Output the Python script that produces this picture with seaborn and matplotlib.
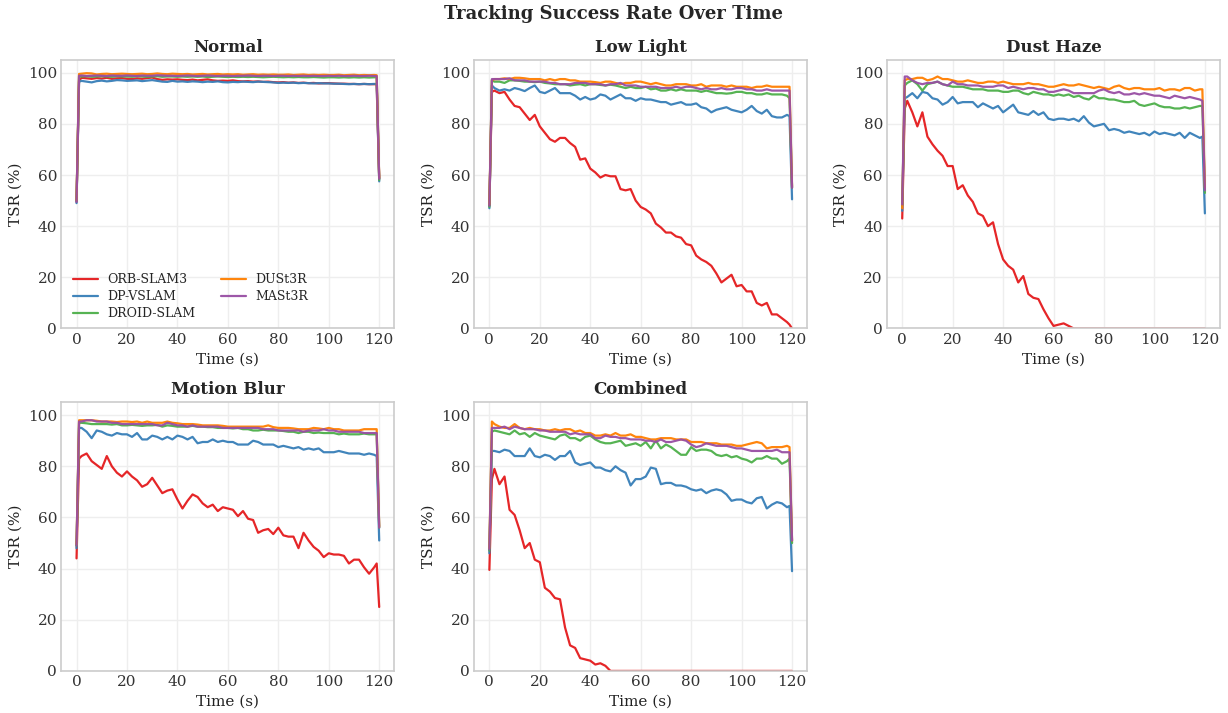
import numpy as np
import pandas as pd
import matplotlib
matplotlib.use("Agg")
import matplotlib.pyplot as plt
import seaborn as sns

# time grid (s): 0, 1, then every 2 s, then 119, 120
time = [0, 1] + list(range(2, 119, 2)) + [119, 120]

methods = ["ORB-SLAM3", "DP-VSLAM", "DROID-SLAM", "DUSt3R", "MASt3R"]
colors = ["#e41a1c", "#377eb8", "#4daf4a", "#ff7f00", "#984ea3"]
conditions = ["Normal", "Low Light", "Dust Haze", "Motion Blur", "Combined"]

# ---------- Normal ----------
normal_orb = [49.5, 97.0,
              98.0, 97.8, 97.6, 97.9, 97.7, 98.0, 97.6, 97.8, 97.9, 97.6,
              97.5, 97.8, 97.6, 97.9, 98.1, 97.5, 97.2, 97.4, 97.3, 97.4,
              97.2, 97.1, 97.3, 97.0, 97.2, 97.4, 97.0, 96.8, 96.9, 96.8,
              97.0, 96.7, 96.6, 96.7, 96.5, 96.6, 96.4, 96.5, 96.3, 96.2,
              96.3, 96.1, 96.2, 96.0, 96.1, 95.9, 96.0, 95.8, 95.9, 95.9,
              95.8, 95.7, 95.7, 95.6, 95.6, 95.5, 95.6, 95.5, 95.5,
              95.5, 58.5]
normal_dpv = [49.0, 96.5,
              96.8, 96.5, 96.2, 96.7, 96.9, 96.6, 96.8, 97.1, 97.0, 96.8,
              96.9, 97.0, 96.7, 96.9, 97.1, 96.8, 96.5, 96.4, 96.8, 96.5,
              96.6, 96.4, 96.6, 96.5, 96.3, 96.5, 96.4, 96.6, 96.3, 96.2,
              96.4, 96.3, 96.5, 96.4, 96.3, 96.5, 96.4, 96.3, 96.2, 96.0,
              96.1, 96.0, 96.1, 95.9, 96.0, 95.9, 95.8, 95.9, 95.8, 95.8,
              95.7, 95.7, 95.6, 95.5, 95.6, 95.5, 95.6, 95.5, 95.6,
              95.6, 57.5]
normal_droid = [50.0, 98.5,
                98.5, 98.6, 98.4, 98.5, 98.6, 98.5, 98.4, 98.6, 98.5, 98.5,
                98.4, 98.6, 98.5, 98.4, 98.5, 98.6, 98.4, 98.5, 98.5, 98.4,
                98.5, 98.4, 98.5, 98.4, 98.5, 98.3, 98.4, 98.5, 98.4, 98.3,
                98.4, 98.3, 98.4, 98.3, 98.4, 98.3, 98.2, 98.3, 98.4, 98.3,
                98.2, 98.3, 98.2, 98.3, 98.2, 98.2, 98.3, 98.2, 98.1, 98.2,
                98.2, 98.1, 98.2, 98.1, 98.2, 98.1, 98.2, 98.1, 98.2,
                98.2, 58.0]
normal_dust3r = [50.0, 99.5,
                 99.6, 99.8, 99.7, 99.3, 99.5, 99.6, 99.4, 99.5, 99.6, 99.5,
                 99.4, 99.5, 99.6, 99.4, 99.5, 99.7, 99.5, 99.4, 99.6, 99.5,
                 99.4, 99.5, 99.3, 99.4, 99.5, 99.3, 99.4, 99.5, 99.3, 99.4,
                 99.3, 99.4, 99.2, 99.3, 99.4, 99.2, 99.3, 99.2, 99.3, 99.2,
                 99.2, 99.3, 99.1, 99.2, 99.3, 99.1, 99.2, 99.1, 99.2, 99.1,
                 99.1, 99.2, 99.0, 99.1, 99.2, 99.0, 99.1, 99.0, 99.1,
                 99.0, 59.0]
normal_mast3r = [49.5, 98.8,
                 98.9, 98.7, 98.8, 98.9, 98.8, 98.7, 98.9, 98.8, 98.8, 98.9,
                 98.8, 98.7, 98.9, 98.8, 98.8, 99.0, 98.9, 98.8, 98.8, 98.7,
                 98.8, 98.9, 98.8, 98.7, 98.8, 98.9, 98.8, 98.7, 98.8, 98.8,
                 98.7, 98.8, 98.8, 98.9, 98.8, 98.7, 98.8, 98.8, 98.7, 98.8,
                 98.8, 98.7, 98.8, 98.7, 98.8, 98.7, 98.8, 98.7, 98.7, 98.8,
                 98.7, 98.8, 98.7, 98.7, 98.8, 98.7, 98.7, 98.8, 98.7,
                 98.7, 58.5]

# ---------- Low Light ----------
low_orb = [48.0, 92.5,
           93.0, 92.0, 92.5, 89.5, 87.0, 86.5, 84.0, 81.5, 83.5, 79.0,
           76.5, 74.0, 73.0, 74.5, 74.5, 72.5, 71.0, 66.0, 66.5, 62.5,
           61.0, 59.0, 60.0, 59.5, 59.5, 54.5, 54.0, 54.5, 50.0, 47.5,
           46.5, 45.0, 41.0, 39.5, 37.5, 37.5, 36.0, 35.5, 33.0, 32.5,
           28.5, 27.0, 26.0, 24.5, 21.5, 18.0, 19.5, 21.0, 16.5, 17.0,
           14.5, 14.5, 10.0, 9.0, 10.0, 5.5, 5.5, 4.0, 2.5,
           1.5, 0.0]
low_dpv = [47.0, 95.0,
           94.0, 93.0, 93.5, 93.0, 94.0, 93.5, 92.8, 94.0, 95.0, 92.5,
           92.0, 93.0, 94.0, 92.0, 92.0, 92.0, 91.0, 89.5, 90.5, 89.5,
           90.0, 91.5, 91.0, 89.5, 90.5, 91.5, 90.0, 90.0, 89.0, 90.0,
           89.5, 89.5, 89.0, 88.5, 88.5, 87.5, 88.0, 88.5, 87.5, 87.5,
           88.0, 86.5, 86.0, 84.5, 85.5, 86.0, 86.5, 85.5, 85.0, 84.5,
           85.5, 87.0, 85.0, 84.0, 85.5, 83.0, 82.5, 82.5, 83.5,
           83.0, 50.5]
low_droid = [47.5, 97.0,
             96.5, 96.5, 96.0, 97.0, 97.0, 96.8, 96.5, 96.5, 96.3, 96.5,
             96.0, 95.8, 95.5, 95.5, 95.5, 95.0, 95.3, 95.5, 95.0, 95.5,
             95.5, 95.2, 95.0, 95.3, 95.0, 94.5, 94.0, 94.5, 94.0, 94.0,
             94.5, 93.5, 93.8, 93.0, 93.0, 93.5, 93.0, 93.5, 93.0, 93.0,
             93.0, 92.5, 93.0, 92.5, 92.0, 92.0, 91.8, 92.0, 92.5, 92.5,
             92.0, 92.0, 91.5, 91.5, 92.0, 91.5, 91.5, 91.5, 91.0,
             90.0, 55.0]
low_dust3r = [48.5, 97.0,
              97.5, 97.5, 97.8, 97.5, 98.0, 98.0, 97.8, 97.5, 97.5, 97.5,
              97.0, 97.5, 97.0, 97.5, 97.5, 97.0, 97.0, 96.5, 96.5, 96.5,
              96.3, 96.0, 96.5, 96.5, 96.0, 95.5, 96.0, 96.0, 96.5, 96.5,
              96.0, 95.5, 96.0, 95.5, 95.0, 95.0, 95.5, 95.5, 95.5, 95.0,
              95.0, 95.5, 94.5, 95.0, 95.0, 95.0, 94.5, 95.0, 94.5, 94.5,
              94.5, 94.0, 94.5, 94.5, 95.0, 94.5, 94.5, 94.5, 94.5,
              94.5, 55.5]
low_mast3r = [48.0, 97.5,
              97.5, 97.5, 97.5, 97.8, 97.0, 97.0, 97.0, 96.5, 96.5, 96.5,
              96.5, 96.0, 96.0, 95.5, 95.5, 95.5, 96.0, 96.0, 96.0, 95.5,
              95.5, 95.5, 95.0, 95.5, 95.5, 96.0, 95.0, 95.0, 95.0, 94.5,
              94.5, 94.5, 94.5, 94.0, 94.0, 94.0, 94.5, 94.0, 94.5, 94.5,
              94.0, 93.5, 94.0, 93.5, 93.5, 94.0, 93.5, 93.5, 94.0, 94.0,
              93.5, 93.5, 93.0, 93.0, 93.5, 93.0, 93.0, 93.0, 93.0,
              93.0, 55.0]

# ---------- Dust Haze ----------
dust_orb = [43.0, 86.0,
            89.0, 84.5, 79.0, 84.5, 75.0, 72.0, 69.5, 67.5, 63.5, 63.5,
            54.5, 56.0, 52.0, 49.5, 45.0, 44.0, 40.0, 41.5, 33.0, 27.0,
            24.5, 23.0, 18.0, 20.5, 13.5, 12.0, 11.5, 7.5, 4.0, 1.0,
            1.5, 2.0, 1.0, 0.0, 0.0, 0.0, 0.0, 0.0, 0.0, 0.0,
            0.0, 0.0, 0.0, 0.0, 0.0, 0.0, 0.0, 0.0, 0.0, 0.0,
            0.0, 0.0, 0.0, 0.0, 0.0, 0.0, 0.0, 0.0, 0.0,
            0.0, 0.0]
dust_dpv = [46.0, 90.0,
            90.5, 92.0, 90.0, 92.5, 92.0, 90.0, 89.5, 87.5, 88.5, 90.5,
            88.0, 88.5, 88.5, 88.5, 86.5, 88.0, 87.0, 86.0, 87.0, 84.5,
            86.0, 87.5, 84.5, 84.0, 83.5, 85.0, 83.5, 84.5, 82.0, 81.5,
            82.0, 82.0, 81.5, 82.0, 81.0, 83.0, 80.5, 79.0, 79.5, 80.0,
            77.5, 78.0, 77.5, 76.5, 77.0, 76.5, 76.0, 76.5, 75.5, 77.0,
            76.0, 76.5, 76.0, 75.5, 76.5, 74.5, 76.5, 75.5, 74.5,
            75.0, 45.0]
dust_droid = [48.0, 95.0,
              96.0, 97.0, 95.5, 93.0, 95.5, 96.0, 96.5, 95.5, 95.0, 94.5,
              94.5, 94.5, 94.0, 93.5, 93.5, 93.5, 93.0, 93.0, 93.0, 92.5,
              92.5, 93.0, 93.0, 92.0, 91.5, 92.5, 92.0, 91.5, 91.5, 91.0,
              91.5, 91.0, 91.5, 90.5, 91.0, 90.0, 89.5, 91.0, 90.0, 90.0,
              89.5, 89.5, 89.0, 88.5, 88.5, 89.0, 87.5, 87.0, 87.5, 88.0,
              87.0, 86.5, 86.5, 86.0, 86.0, 86.5, 86.0, 86.5, 87.0,
              87.0, 53.0]
dust_dust3r = [47.0, 97.0,
               97.5, 97.5, 98.0, 98.0, 97.0, 97.5, 98.5, 97.5, 97.5, 97.0,
               96.5, 96.5, 97.0, 96.5, 96.0, 96.0, 96.5, 96.5, 96.0, 96.5,
               96.0, 95.5, 95.5, 95.5, 96.0, 95.5, 95.5, 95.0, 94.5, 94.5,
               95.0, 95.5, 95.0, 95.0, 95.5, 95.0, 94.5, 94.0, 94.5, 94.0,
               93.5, 94.5, 95.0, 94.0, 93.5, 94.0, 94.0, 93.5, 93.5, 93.5,
               94.0, 93.0, 93.5, 93.5, 93.0, 94.0, 94.0, 93.0, 93.5,
               93.5, 55.0]
dust_mast3r = [48.5, 98.5,
               98.5, 97.0, 96.0, 95.5, 96.0, 96.0, 96.5, 95.5, 95.0, 96.5,
               95.5, 95.5, 95.0, 95.0, 95.0, 94.5, 94.5, 94.5, 95.0, 95.0,
               94.0, 94.5, 94.0, 93.5, 94.0, 94.0, 93.5, 93.5, 92.5, 92.5,
               93.0, 93.5, 93.0, 92.0, 92.0, 92.0, 92.0, 92.0, 93.0, 93.5,
               92.5, 92.0, 92.5, 91.5, 91.5, 92.0, 91.5, 92.0, 91.5, 91.0,
               91.0, 90.5, 90.0, 91.0, 90.5, 90.0, 90.5, 90.0, 89.5,
               89.0, 54.0]

# ---------- Motion Blur ----------
blur_orb = [44.0, 83.0,
            84.0, 85.0, 82.0, 80.5, 79.0, 84.0, 80.0, 77.5, 76.0, 78.0,
            76.0, 74.5, 72.0, 73.0, 75.5, 72.5, 69.5, 70.5, 71.0, 67.0,
            63.5, 66.5, 69.0, 68.0, 65.5, 64.0, 65.0, 62.5, 64.0, 63.5,
            63.0, 60.5, 62.5, 59.5, 59.0, 54.0, 55.0, 55.5, 53.5, 56.0,
            53.0, 52.5, 52.5, 48.0, 54.0, 51.0, 48.5, 47.0, 44.5, 46.0,
            45.5, 45.5, 45.0, 42.0, 43.5, 43.5, 40.5, 38.0, 40.5,
            42.0, 25.0]
blur_dpv = [48.0, 95.0,
            95.0, 93.5, 91.0, 94.0, 93.5, 92.5, 92.0, 93.0, 92.5, 92.5,
            91.5, 93.0, 90.5, 90.5, 92.0, 91.5, 90.5, 91.5, 90.5, 92.0,
            91.5, 90.5, 91.5, 89.0, 89.5, 89.5, 90.5, 89.5, 90.0, 89.5,
            89.5, 88.5, 88.5, 88.5, 90.0, 89.5, 88.5, 88.5, 88.5, 87.5,
            88.0, 87.5, 87.0, 87.5, 86.5, 87.0, 86.5, 87.0, 85.5, 85.5,
            85.5, 86.0, 85.5, 85.0, 85.0, 85.0, 84.5, 85.0, 84.5,
            84.0, 51.0]
blur_droid = [49.0, 97.0,
              97.0, 96.8, 96.5, 96.5, 96.5, 96.5, 96.3, 96.5, 96.0, 96.0,
              96.2, 96.0, 95.8, 96.0, 96.0, 96.2, 95.5, 96.0, 95.8, 95.5,
              95.5, 95.5, 95.8, 95.5, 95.5, 95.3, 95.3, 95.0, 95.0, 95.0,
              94.8, 95.0, 94.5, 94.5, 94.0, 94.0, 94.3, 94.0, 94.0, 94.0,
              93.8, 93.5, 93.5, 93.0, 93.5, 93.5, 93.0, 93.2, 93.0, 93.0,
              93.0, 92.5, 92.8, 92.5, 92.5, 92.5, 92.8, 92.5, 92.5,
              92.5, 56.0]
blur_dust3r = [49.5, 98.0,
               98.0, 98.0, 98.0, 97.8, 97.5, 97.5, 97.5, 97.3, 97.5, 97.5,
               97.3, 97.5, 97.0, 97.5, 97.0, 97.0, 97.0, 97.5, 97.0, 96.8,
               96.5, 96.5, 96.5, 96.3, 96.0, 96.0, 96.0, 96.0, 95.8, 95.5,
               95.5, 95.5, 95.5, 95.5, 95.5, 95.5, 95.5, 96.0, 95.3, 95.0,
               95.0, 95.0, 94.8, 94.5, 94.5, 94.5, 95.0, 94.8, 94.5, 95.0,
               94.5, 94.5, 94.0, 94.0, 94.0, 94.0, 94.5, 94.5, 94.5,
               94.5, 56.5]
blur_mast3r = [49.0, 97.5,
               97.5, 98.0, 98.0, 97.5, 97.5, 97.5, 97.0, 97.0, 96.5, 96.5,
               96.5, 96.5, 96.5, 96.5, 96.5, 96.0, 96.0, 97.0, 96.5, 96.0,
               96.0, 95.5, 96.0, 95.5, 95.5, 95.5, 95.5, 95.5, 95.0, 95.0,
               95.0, 95.0, 95.0, 95.0, 95.0, 95.0, 94.5, 94.5, 94.5, 94.0,
               94.0, 94.0, 94.0, 94.0, 93.5, 94.0, 94.0, 94.0, 94.5, 94.0,
               94.0, 93.5, 93.5, 93.5, 93.5, 93.5, 93.0, 93.0, 93.0,
               93.0, 56.0]

# ---------- Combined ----------
comb_orb = [39.5, 75.0,
            79.0, 73.0, 76.0, 63.0, 61.0, 55.0, 48.0, 50.0, 43.5, 42.5,
            32.5, 31.0, 28.5, 28.0, 17.0, 10.0, 9.0, 5.0, 4.5, 4.0,
            2.5, 3.0, 2.0, 0.0, 0.0, 0.0, 0.0, 0.0, 0.0, 0.0,
            0.0, 0.0, 0.0, 0.0, 0.0, 0.0, 0.0, 0.0, 0.0, 0.0,
            0.0, 0.0, 0.0, 0.0, 0.0, 0.0, 0.0, 0.0, 0.0, 0.0,
            0.0, 0.0, 0.0, 0.0, 0.0, 0.0, 0.0, 0.0, 0.0,
            0.0, 0.0]
comb_dpv = [46.0, 86.0,
            86.0, 85.5, 86.5, 86.0, 84.0, 84.0, 84.0, 87.0, 84.0, 83.5,
            84.5, 84.0, 82.5, 84.0, 84.0, 86.0, 81.5, 80.5, 81.0, 81.5,
            79.5, 79.5, 78.5, 78.0, 80.0, 78.5, 77.5, 72.5, 75.0, 75.0,
            76.0, 79.5, 79.0, 73.0, 73.5, 73.5, 72.5, 72.5, 72.0, 71.0,
            70.5, 71.0, 69.5, 70.5, 71.0, 70.5, 69.0, 66.5, 67.0, 67.0,
            66.0, 65.5, 67.5, 68.0, 63.5, 65.0, 66.0, 65.5, 64.0,
            64.5, 39.0]
comb_droid = [47.0, 93.5,
              94.0, 93.5, 93.0, 92.5, 94.0, 92.5, 93.0, 91.5, 93.0, 92.0,
              91.5, 91.0, 90.5, 92.0, 92.5, 91.0, 91.0, 90.0, 91.5, 92.0,
              90.5, 89.5, 89.0, 89.0, 89.5, 90.0, 88.0, 88.5, 89.0, 88.0,
              89.5, 87.0, 90.0, 87.0, 88.5, 87.5, 86.0, 84.5, 84.5, 87.5,
              86.0, 86.5, 86.5, 86.0, 84.5, 84.0, 84.5, 83.5, 84.0, 83.0,
              82.5, 81.5, 83.0, 83.0, 84.0, 83.0, 83.0, 81.0, 82.0,
              83.0, 50.0]
comb_dust3r = [48.0, 97.5,
               96.5, 95.5, 95.0, 95.0, 96.5, 95.0, 94.5, 95.0, 94.5, 94.5,
               94.0, 94.0, 94.5, 94.0, 94.5, 94.5, 93.5, 94.0, 93.0, 93.0,
               92.0, 92.0, 92.5, 92.0, 93.0, 92.0, 92.0, 92.5, 91.5, 91.5,
               91.0, 90.5, 90.5, 91.0, 91.0, 91.0, 90.5, 90.5, 90.5, 89.5,
               89.5, 89.5, 89.0, 89.0, 89.0, 88.5, 88.5, 88.5, 88.0, 88.0,
               88.5, 89.0, 89.5, 89.0, 87.0, 87.5, 87.5, 87.5, 88.0,
               87.5, 51.0]
comb_mast3r = [47.5, 95.0,
               95.0, 95.0, 95.5, 94.5, 95.5, 95.0, 94.5, 94.5, 94.5, 94.0,
               94.0, 93.5, 93.5, 93.5, 93.5, 92.5, 93.0, 92.5, 92.5, 92.5,
               91.0, 91.0, 92.0, 91.5, 91.5, 91.0, 91.0, 90.5, 90.5, 90.5,
               90.0, 90.0, 89.5, 90.5, 89.5, 89.5, 90.0, 90.5, 90.0, 88.5,
               87.5, 88.0, 89.0, 88.5, 88.0, 88.0, 88.0, 87.5, 87.0, 87.0,
               86.5, 86.0, 86.0, 86.0, 86.0, 86.0, 86.5, 85.5, 85.5,
               85.5, 51.0]

panel_series = {
    "Normal": [normal_orb, normal_dpv, normal_droid, normal_dust3r, normal_mast3r],
    "Low Light": [low_orb, low_dpv, low_droid, low_dust3r, low_mast3r],
    "Dust Haze": [dust_orb, dust_dpv, dust_droid, dust_dust3r, dust_mast3r],
    "Motion Blur": [blur_orb, blur_dpv, blur_droid, blur_dust3r, blur_mast3r],
    "Combined": [comb_orb, comb_dpv, comb_droid, comb_dust3r, comb_mast3r],
}

sns.set_theme(style="whitegrid", rc={
    "axes.edgecolor": "#cccccc",
    "axes.linewidth": 1.2,
    "grid.color": "#eeeeee",
    "xtick.color": "#333333",
    "ytick.color": "#333333",
    "axes.labelcolor": "#222222",
})
plt.rcParams["font.family"] = ["DejaVu Serif"]

fig, axes = plt.subplots(2, 3, figsize=(12.28, 7.13), dpi=100)
axes = axes.ravel()

for i, cond in enumerate(conditions):
    ax = axes[i]
    rows = []
    for m, vals in zip(methods, panel_series[cond]):
        for t, v in zip(time, vals):
            rows.append({"Time": t, "TSR": v, "Method": m})
    df = pd.DataFrame(rows)
    sns.lineplot(data=df, x="Time", y="TSR", hue="Method", hue_order=methods,
                 palette=colors, linewidth=1.6, alpha=0.95, ax=ax,
                 legend=(i == 0))
    ax.set_title(cond, fontsize=12, fontweight="bold")
    ax.set_xlabel("Time (s)", fontsize=11, labelpad=4)
    ax.set_ylabel("TSR (%)", fontsize=11, labelpad=4)
    ax.set_ylim(0, 105)
    ax.set_xlim(-6, 126)
    ax.set_xticks(range(0, 121, 20))
    ax.set_yticks(range(0, 101, 20))
    ax.tick_params(labelsize=11, length=0, pad=3)
    if i == 0:
        ax.legend(loc="lower left", ncol=2, frameon=False, fontsize=9,
                  handlelength=2.0, columnspacing=2.0, labelspacing=0.3,
                  bbox_to_anchor=(0.0, -0.01))

axes[5].remove()

fig.suptitle("Tracking Success Rate Over Time", fontsize=13, fontweight="bold", y=0.993)
fig.subplots_adjust(left=0.05, right=0.9935, top=0.916, bottom=0.059,
                    wspace=0.24, hspace=0.275)
fig.savefig("out.png", dpi=100)
